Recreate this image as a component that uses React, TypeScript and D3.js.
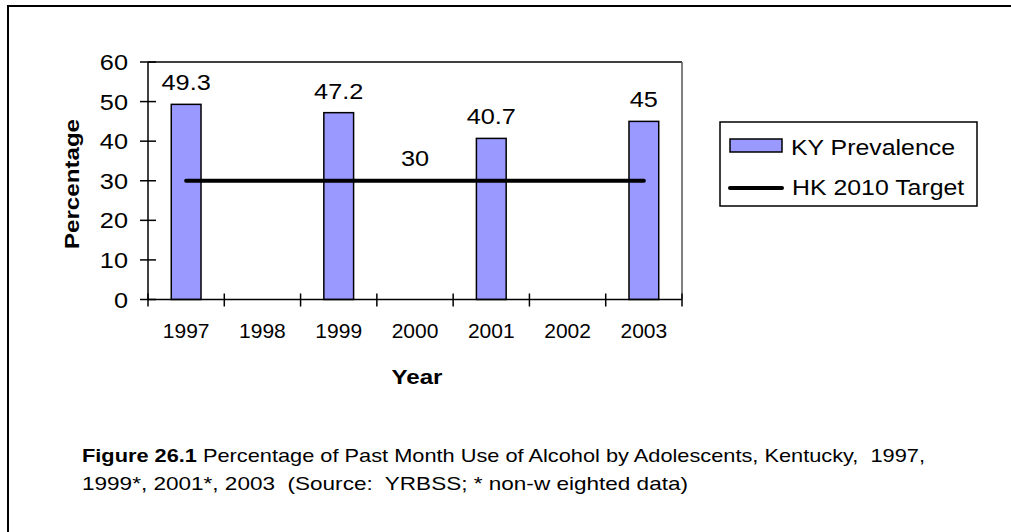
import * as d3 from "d3";

const years = ["1997", "1998", "1999", "2000", "2001", "2002", "2003"];
const prevalence: (number | null)[] = [49.3, null, 47.2, null, 40.7, null, 45];
const target = [30, 30, 30, 30, 30, 30, 30];
const yTicks = [0, 10, 20, 30, 40, 50, 60];
const seriesNames = ["KY Prevalence", "HK 2010 Target"];
const captionBold = "Figure 26.1";
const captionLine1 = " Percentage of Past Month Use of Alcohol by Adolescents, Kentucky,  1997,";
const captionLine2 = "1999*, 2001*, 2003  (Source:  YRBSS; * non-w eighted data)";

const FONT = "'Liberation Sans', Arial, sans-serif";
const BAR = "#9999ff";

// stretched text, the original glyphs are wider than plain Arial
const T = ({ x, y, size, anchor = "start", bold = false, sx = 1.15, rotate = 0, children }: any) => (
  <text
    transform={`translate(${x},${y}) rotate(${rotate}) scale(${sx},1)`}
    textAnchor={anchor}
    fontSize={size}
    fontWeight={bold ? "bold" : "normal"}
    fontFamily={FONT}
    fill="#000"
  >
    {children}
  </text>
);

const App = () => {
  const left = 148, right = 682, top = 62, bottom = 299.5;
  const x = d3.scaleBand<string>().domain(years).range([left, right]).padding(0);
  const y = d3.scaleLinear().domain([0, 60]).range([bottom, top]);
  const bw = x.bandwidth() * 0.39;
  const cx = (d: string) => (x(d) || 0) + x.bandwidth() / 2;

  const line = d3
    .line<number>()
    .x((_, i) => cx(years[i]))
    .y((d) => y(d));

  const bounds = years.map((d) => x(d) || 0).concat([right]);

  return (
    <svg
      width={1011}
      height={532}
      style={{ position: "absolute", left: 0, top: 0, background: "#fff" }}
    >
      <rect x={8} y={6} width={1010} height={540} fill="none" stroke="#000" strokeWidth={2} />

      {/* plot frame */}
      <line x1={left} x2={right} y1={top} y2={top} stroke="#000" strokeWidth={1.5} />
      <line x1={right} x2={right} y1={top} y2={bottom} stroke="#555" strokeWidth={1.5} />

      {/* bars */}
      {prevalence.map((v, i) =>
        v == null ? null : (
          <rect
            key={i}
            x={cx(years[i]) - bw / 2}
            y={y(v)}
            width={bw}
            height={bottom - y(v)}
            fill={BAR}
            stroke="#000"
            strokeWidth={1.5}
          />
        )
      )}

      {/* target line */}
      <path d={line(target) || ""} fill="none" stroke="#000" strokeWidth={4} strokeLinecap="round" />

      {/* axes */}
      <line x1={left} x2={left} y1={top} y2={bottom} stroke="#000" strokeWidth={1.5} />
      <line x1={left} x2={right} y1={bottom} y2={bottom} stroke="#000" strokeWidth={1.5} />
      {yTicks.map((t) => (
        <g key={t}>
          <line x1={left - 8} x2={left + 8} y1={y(t)} y2={y(t)} stroke="#000" strokeWidth={1.5} />
          <T x={128} y={y(t) + 8} size={22} anchor="end">{t}</T>
        </g>
      ))}
      {bounds.map((b, i) => (
        <line key={i} x1={b} x2={b} y1={bottom - 6} y2={bottom + 7} stroke="#000" strokeWidth={1.5} />
      ))}
      {years.map((d) => (
        <T key={d} x={cx(d)} y={338} size={21} anchor="middle" sx={1}>{d}</T>
      ))}

      {/* data labels */}
      {prevalence.map((v, i) =>
        v == null ? null : (
          <T key={i} x={cx(years[i])} y={Math.max(y(v) - 14, top + 19)} size={22} anchor="middle">
            {v}
          </T>
        )
      )}
      <T x={cx(years[3])} y={y(target[3]) - 15} size={22} anchor="middle">{target[3]}</T>

      {/* axis titles */}
      <T x={417} y={384} size={21} anchor="middle" bold>Year</T>
      <T x={79} y={184} size={21} anchor="middle" bold rotate={-90}>Percentage</T>

      {/* legend */}
      <rect x={720} y={122} width={257} height={84} fill="#fff" stroke="#000" strokeWidth={1.5} />
      <rect x={730} y={139} width={52} height={13} fill={BAR} stroke="#000" strokeWidth={1.5} />
      <T x={791} y={155} size={22} sx={1.13}>{seriesNames[0]}</T>
      <line x1={730} x2={782} y1={188} y2={188} stroke="#000" strokeWidth={4} strokeLinecap="round" />
      <T x={792} y={195} size={22} sx={1.13}>{seriesNames[1]}</T>

      {/* caption, condensed like the original */}
      <text
        x={82}
        y={462}
        fontSize={19}
        fontFamily={FONT}
        textLength={843}
        lengthAdjust="spacingAndGlyphs"
        style={{ whiteSpace: "pre" }}
      >
        <tspan fontWeight="bold">{captionBold}</tspan>
        <tspan>{captionLine1}</tspan>
      </text>
      <text
        x={82}
        y={490}
        fontSize={19}
        fontFamily={FONT}
        textLength={606}
        lengthAdjust="spacingAndGlyphs"
        style={{ whiteSpace: "pre" }}
      >
        {captionLine2}
      </text>
    </svg>
  );
};

export default App;
